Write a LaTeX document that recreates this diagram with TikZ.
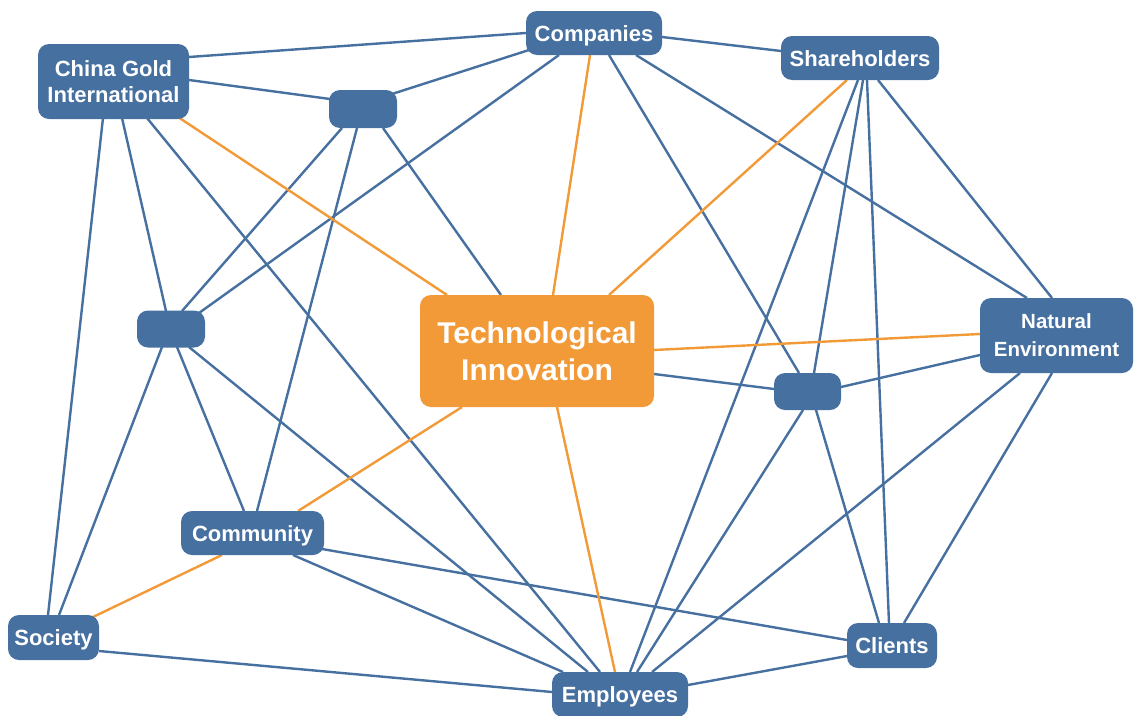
\documentclass[tikz,border=0pt]{standalone}
\usepackage{fontspec}
\setmainfont{Liberation Sans}
\usetikzlibrary{backgrounds}
\definecolor{nblue}{RGB}{70,112,160}
\definecolor{norange}{RGB}{242,154,56}
\begin{document}
\begin{tikzpicture}[x=1pt,y=-1pt,
  box/.style={fill=nblue, rounded corners=11pt, text=white,
    font=\bfseries\fontsize{22}{26}\selectfont, align=center, inner sep=0pt},
  onebox/.style={box, text height=16pt, text depth=0pt},
  bline/.style={draw=nblue, line width=2.4pt},
  oline/.style={draw=norange, line width=2.4pt}]
\useasboundingbox (0,0) rectangle (1134,715);
% nodes
\node[box, minimum width=151pt, minimum height=75pt] (cg) at (113.5,81.5) {China Gold\\International};
\node[onebox, minimum width=136pt, minimum height=44pt] (comp) at (594,33) {Companies};
\node[onebox, minimum width=158pt, minimum height=44pt] (sh) at (860,58) {Shareholders};
\node[box, minimum width=68pt, minimum height=38pt] (n1) at (363,109) {};
\node[box, minimum width=68pt, minimum height=37pt] (n2) at (171,329) {};
\node[box, fill=norange, minimum width=234pt, minimum height=112pt,
  font=\bfseries\fontsize{30}{37}\selectfont] (ti) at (537,351) {Technological\\Innovation};
\node[box, minimum width=153pt, minimum height=75pt,
  font=\bfseries\fontsize{20.5}{28}\selectfont] (ne) at (1056.5,335.5) {Natural\\Environment};
\node[box, minimum width=67pt, minimum height=37pt] (n3) at (807.5,391.5) {};
\node[onebox, minimum width=143pt, minimum height=44pt] (com) at (252.5,533) {Community};
\node[onebox, minimum width=91pt, minimum height=45pt] (soc) at (53.5,637.5) {Society};
\node[onebox, minimum width=90pt, minimum height=45pt] (cl) at (892,645.5) {Clients};
\node[onebox, minimum width=136pt, minimum height=45pt] (emp) at (620,694.5) {Employees};
\begin{scope}[on background layer]
\fill[white] (0,0) rectangle (1134,715);
% blue connectors
\draw[bline] ([shift={(75.5,-24.5)}]cg.center) -- ([shift={(-68,0)}]comp.center);
\draw[bline] ([shift={(75.5,-1.5)}]cg.center) -- ([shift={(-33,-10)}]n1.center);
\draw[bline] ([shift={(29,-15)}]n1.center) -- ([shift={(-65,17)}]comp.center);
\draw[bline] ([shift={(-10.5,36.5)}]cg.center) -- ([shift={(-5.5,-22.5)}]soc.center);
\draw[bline] ([shift={(8.5,36.5)}]cg.center) -- ([shift={(-5,-18)}]n2.center);
\draw[bline] ([shift={(33.5,36.5)}]cg.center) -- ([shift={(-20,-22.5)}]emp.center);
\draw[bline] ([shift={(-21,19)}]n1.center) -- ([shift={(11,-18)}]n2.center);
\draw[bline] ([shift={(-6,19)}]n1.center) -- ([shift={(4.5,-22)}]com.center);
\draw[bline] ([shift={(20,19)}]n1.center) -- ([shift={(-36,-56)}]ti.center);
\draw[bline] ([shift={(-35,22)}]comp.center) -- ([shift={(28,-16)}]n2.center);
\draw[bline] ([shift={(-9,18)}]n2.center) -- ([shift={(5.5,-22.5)}]soc.center);
\draw[bline] ([shift={(6,18)}]n2.center) -- ([shift={(-8.5,-22)}]com.center);
\draw[bline] ([shift={(18,18)}]n2.center) -- ([shift={(-32,-22.5)}]emp.center);
\draw[bline] ([shift={(68,4)}]comp.center) -- ([shift={(-79,-7)}]sh.center);
\draw[bline] ([shift={(15,22)}]comp.center) -- ([shift={(-8.5,-18.5)}]n3.center);
\draw[bline] ([shift={(42,22)}]comp.center) -- ([shift={(-29.5,-37.5)}]ne.center);
\draw[bline] ([shift={(-2,22)}]sh.center) -- ([shift={(10,-22.5)}]emp.center);
\draw[bline] ([shift={(3,22)}]sh.center) -- ([shift={(6.5,-18.5)}]n3.center);
\draw[bline] ([shift={(7,22)}]sh.center) -- ([shift={(-3,-22.5)}]cl.center);
\draw[bline] ([shift={(18,22)}]sh.center) -- ([shift={(-4.5,-37.5)}]ne.center);
\draw[bline] ([shift={(117,23)}]ti.center) -- ([shift={(-33.5,-2.5)}]n3.center);
\draw[bline] ([shift={(33.5,-4.5)}]n3.center) -- ([shift={(-76.5,19.5)}]ne.center);
\draw[bline] ([shift={(-4.5,18.5)}]n3.center) -- ([shift={(17,-22.5)}]emp.center);
\draw[bline] ([shift={(8.5,18.5)}]n3.center) -- ([shift={(-13,-22.5)}]cl.center);
\draw[bline] ([shift={(-36.5,37.5)}]ne.center) -- ([shift={(32,-22.5)}]emp.center);
\draw[bline] ([shift={(-4.5,37.5)}]ne.center) -- ([shift={(12,-22.5)}]cl.center);
\draw[bline] ([shift={(69.5,16)}]com.center) -- ([shift={(-45,-5.5)}]cl.center);
\draw[bline] ([shift={(40.5,22)}]com.center) -- ([shift={(-57,-22.5)}]emp.center);
\draw[bline] ([shift={(45.5,13.5)}]soc.center) -- ([shift={(-68,-2.5)}]emp.center);
\draw[bline] ([shift={(-45,10.5)}]cl.center) -- ([shift={(68,-9.5)}]emp.center);
% orange connectors
\draw[oline] ([shift={(64.5,35.5)}]cg.center) -- ([shift={(-90,-56)}]ti.center);
\draw[oline] ([shift={(-4,22)}]comp.center) -- ([shift={(16,-56)}]ti.center);
\draw[oline] ([shift={(-13,22)}]sh.center) -- ([shift={(72,-56)}]ti.center);
\draw[oline] ([shift={(117,-1)}]ti.center) -- ([shift={(-76.5,-1.5)}]ne.center);
\draw[oline] ([shift={(-75,56)}]ti.center) -- ([shift={(45.5,-22)}]com.center);
\draw[oline] ([shift={(20,56)}]ti.center) -- ([shift={(-5,-22.5)}]emp.center);
\draw[oline] ([shift={(-30.5,22)}]com.center) -- ([shift={(39.5,-20.5)}]soc.center);
\end{scope}
\end{tikzpicture}
\end{document}
